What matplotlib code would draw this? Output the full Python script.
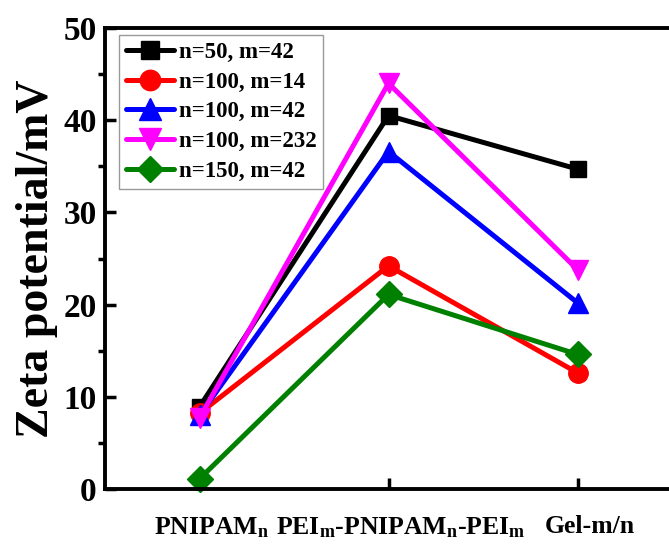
import matplotlib
matplotlib.use("Agg")
import matplotlib.pyplot as plt
from matplotlib.ticker import MultipleLocator
from matplotlib.transforms import ScaledTranslation

# --- data ---
categories = [r"PNIPAM$_\mathrm{n}$",
              r"PEI$_\mathrm{m}$-PNIPAM$_\mathrm{n}$-PEI$_\mathrm{m}$",
              r"Gel-m/n"]
labels = ["n=50, m=42", "n=100, m=14", "n=100, m=42",
          "n=100, m=232", "n=150, m=42"]
s_50_42 = [8.9, 40.5, 34.7]
s_100_14 = [8.2, 24.2, 12.6]
s_100_42 = [8.0, 36.6, 20.2]
s_100_232 = [7.7, 44.0, 23.8]
s_150_42 = [1.1, 21.1, 14.6]
series = [s_50_42, s_100_14, s_100_42, s_100_232, s_150_42]

colors = ["black", "red", "blue", "magenta", "green"]
markers = ["s", "o", "^", "v", "D"]
msizes = [12, 14, 15, 15, 13]

plt.rcParams["font.family"] = ["Liberation Serif", "DejaVu Serif"]
plt.rcParams["font.weight"] = "bold"
plt.rcParams["mathtext.fontset"] = "custom"
plt.rcParams["mathtext.rm"] = "Liberation Serif:bold"
plt.rcParams["mathtext.it"] = "Liberation Serif:bold"
plt.rcParams["mathtext.bf"] = "Liberation Serif:bold"

fig = plt.figure(figsize=(6.69, 5.45), dpi=100)
ax = fig.add_axes([105 / 669, 56 / 545, 567 / 669, 461 / 545])

x = [1, 2, 3]
for ys, c, m, ms, lab in zip(series, colors, markers, msizes, labels):
    ax.plot(x, ys, color=c, marker=m, markersize=ms, linewidth=3.6,
            solid_capstyle="round", label=lab, clip_on=False)

ax.set_xlim(0.5, 3.5)
ax.set_ylim(0, 50)
ax.set_xticks(x)
ax.set_xticklabels(categories, fontsize=18.5, fontweight="bold")
ax.yaxis.set_major_locator(MultipleLocator(10))
ax.yaxis.set_minor_locator(MultipleLocator(5))
ax.tick_params(axis="both", direction="in", width=2.5)
ax.tick_params(axis="y", which="major", length=8, labelsize=24, pad=6)
ax.tick_params(axis="y", which="minor", length=5, width=2.5)
ax.tick_params(axis="x", length=8, pad=19)
shift = ScaledTranslation(12 / 100, 0, fig.dpi_scale_trans)
for lbl in ax.get_xticklabels():
    lbl.set_transform(lbl.get_transform() + shift)
for lbl in ax.get_yticklabels():
    lbl.set_fontweight("bold")
for sp in ax.spines.values():
    sp.set_linewidth(2.8)

ax.set_ylabel("Zeta potential/mV", fontsize=33, fontweight="bold", labelpad=4)

leg = ax.legend(loc="upper left", bbox_to_anchor=(0.025, 0.985),
                prop={"family": "Liberation Serif", "weight": "bold", "size": 16.5},
                frameon=True, fancybox=False, edgecolor="gray",
                handlelength=2.1, handletextpad=0.2, labelspacing=0.38,
                borderpad=0.3, borderaxespad=0.0, markerscale=1.05)
leg.get_frame().set_linewidth(1.0)

fig.savefig("out.png", dpi=100)
